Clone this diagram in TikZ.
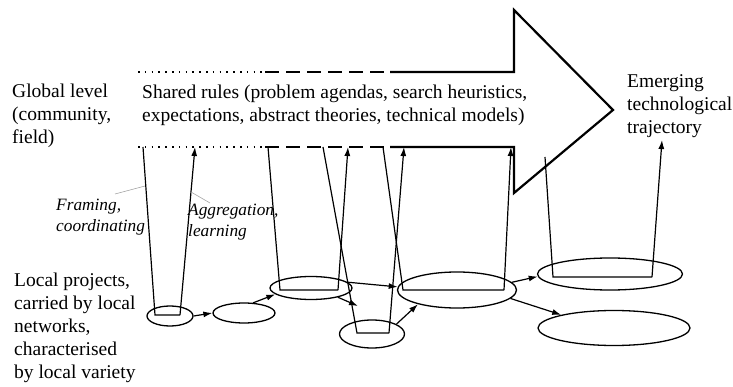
\documentclass[tikz,border=0pt]{standalone}
\usepackage{fontspec}
\setmainfont{Liberation Serif}
\usetikzlibrary{positioning,arrows.meta,shapes.geometric}

\begin{document}
\begin{tikzpicture}[x=1pt, y=-1pt, >={Latex[length=9pt,width=6pt]},
  proj/.style={ellipse, draw, line width=1.3pt, inner sep=0pt},
  cup/.style={line width=1.2pt},
  bar/.style={line width=2.2pt, line join=miter},
  dots/.style={line width=1.6pt, dash pattern=on 1.6pt off 5.2pt},
  dashes/.style={line width=2pt, dash pattern=on 14pt off 7pt},
  lbl/.style={align=left, anchor=west, inner sep=0pt, font=\fontsize{19.5}{23}\selectfont},
  ital/.style={align=left, anchor=west, inner sep=0pt, font=\fontsize{17.3}{20.5}\selectfont\itshape},
  leader/.style={gray!70, line width=0.6pt}]

\useasboundingbox (0,0) rectangle (733,387);

% 
\draw[dots] (138,72) -- (265,72);
\draw[dashes] (265,72) -- (390,72);
\draw[dots] (138,147) -- (265,147);
\draw[dashes] (265,147) -- (390,147);
\draw[bar] (390,72) -- (514,72) -- (514,10) -- (613,110) -- (514,193) -- (514,147) -- (390,147);

% 
\node[lbl] (glob) at (12,116) {Global level\\(community,\\field)};
\node[lbl] (rules) at (142,105) {Shared rules (problem agendas, search heuristics,\\expectations, abstract theories, technical models)};
\node[lbl] (traj) at (627,106) {Emerging\\technological\\trajectory};
\node[ital] (frame) at (56,217) {Framing,\\coordinating};
\node[ital] (aggr) at (188,222) {Aggregation,\\learning};
\node[lbl] (loc) at (14,328) {Local projects,\\carried by local\\networks,\\characterised\\by local variety};

% 
\node[proj, minimum width=46pt, minimum height=20pt] (l1) at (170,316) {};
\node[proj, minimum width=62pt, minimum height=20pt] (l2) at (244,313) {};
\node[proj, minimum width=82pt, minimum height=23pt] (l3) at (311,288) {};
\node[proj, minimum width=65pt, minimum height=28pt] (l4) at (372,334) {};
\node[proj, minimum width=119pt, minimum height=36pt] (l5) at (457,290) {};
\node[proj, minimum width=145pt, minimum height=32pt] (l6) at (610,274) {};
\node[proj, minimum width=152pt, minimum height=35pt] (l7) at (614,328) {};

% 
\draw[cup] (143,147) -- (155,315) -- (180,315);
\draw[cup, ->] (180,315) -- (195,147);
\draw[cup] (268,147) -- (280,290) -- (338,290);
\draw[cup, ->] (338,290) -- (348,147);
\draw[cup] (323,147) -- (357,333) -- (389,333);
\draw[cup, ->] (389,333) -- (404,147);
\draw[cup] (383,147) -- (403,290) -- (504,290);
\draw[cup, ->] (504,290) -- (511,147);
\draw[cup] (545,157) -- (553,277) -- (652,277);
\draw[cup, ->] (652,277) -- (662,140);

% 
\coordinate (hit) at (358,306);
\draw[cup, ->] (l1.0) -- (l2.180);
\draw[cup, ->] (l2.48) -- (l3.190);
\draw[cup, ->] (l3.9) -- (l5.177);
\draw[cup, ->] (l3.-19) -- (hit);
\draw[cup, ->] (l4.22) -- (l5.200);
\draw[cup, ->] (l5.8) -- (l6.182);
\draw[cup, ->] (l5.-9) -- (l7.166);

% 
\coordinate (fr) at (145,186);
\coordinate (ag) at (191,192);
\draw[leader] (fr) -- (115,194);
\draw[leader] (ag) -- (210,203);

\end{tikzpicture}
\end{document}
